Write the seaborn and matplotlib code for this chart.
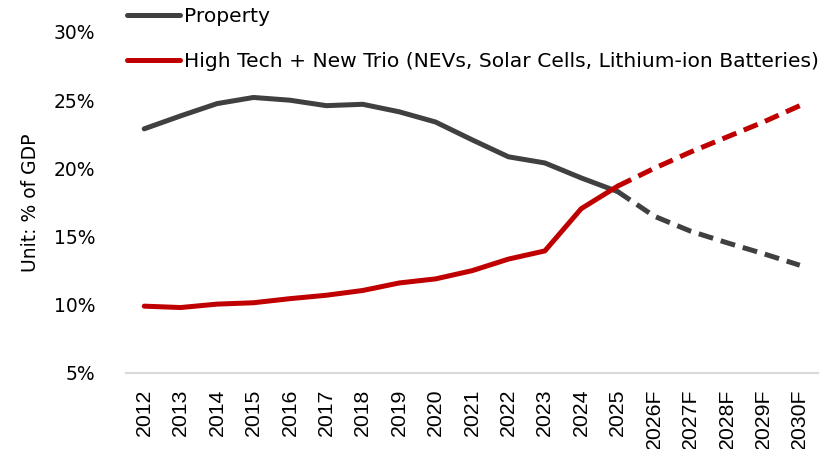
import matplotlib
matplotlib.use("Agg")
import matplotlib.pyplot as plt
import seaborn as sns
import pandas as pd
from matplotlib.lines import Line2D
from matplotlib.ticker import FuncFormatter, MultipleLocator

years = ["2012", "2013", "2014", "2015", "2016", "2017", "2018", "2019", "2020",
         "2021", "2022", "2023", "2024", "2025", "2026F", "2027F", "2028F", "2029F", "2030F"]
property_share = [22.9, 23.85, 24.75, 25.2, 25.0, 24.6, 24.7, 24.15, 23.4,
                  22.1, 20.85, 20.4, 19.3, 18.3, 16.5, 15.4, 14.55, 13.75, 12.9]
hightech_share = [9.9, 9.8, 10.05, 10.15, 10.45, 10.7, 11.05, 11.6, 11.9,
                  12.5, 13.35, 13.95, 17.05, 18.7, 20.0, 21.2, 22.3, 23.4, 24.6]
series_names = ["Property", "High Tech + New Trio (NEVs, Solar Cells, Lithium-ion Batteries)"]
last_actual = "2025"

rows = []
cut = years.index(last_actual)
for name, vals in zip(series_names, [property_share, hightech_share]):
    for i, (y, v) in enumerate(zip(years, vals)):
        if i <= cut:
            rows.append({"year": y, "value": v, "series": name, "segment": "actual"})
        if i >= cut:
            rows.append({"year": y, "value": v, "series": name, "segment": "forecast"})
df = pd.DataFrame(rows)

sns.set_theme(style="white")
plt.rcParams["font.family"] = ["DejaVu Sans"]
plt.rcParams["text.color"] = "#000000"

colors = {series_names[0]: "#404040", series_names[1]: "#C00000"}

fig = plt.figure(figsize=(8.38, 4.49), dpi=100)
ax = fig.add_axes([126 / 838, 1 - 373 / 449, (818 - 126) / 838, (373 - 32) / 449])

sns.lineplot(data=df, x="year", y="value", hue="series", style="segment",
             palette=colors, dashes={"actual": "", "forecast": (3, 1.6)},
             linewidth=3.6, sort=False, legend=False, ax=ax,
             estimator=None, units=None)
for ln in ax.get_lines():
    ln.set_solid_capstyle("round")
    ln.set_dash_capstyle("butt")

ax.set_ylim(5, 30)
ax.set_xlim(-0.5, len(years) - 0.5)
ax.yaxis.set_major_locator(MultipleLocator(5))
ax.yaxis.set_major_formatter(FuncFormatter(lambda v, p: f"{v:.0f}%"))
ax.set_xlabel("")
ax.set_ylabel("Unit: % of GDP", fontsize=13.5, color="#000000", labelpad=10)

for s in ["top", "right", "left"]:
    ax.spines[s].set_visible(False)
ax.spines["bottom"].set_color("#D9D9D9")
ax.spines["bottom"].set_linewidth(1.5)
ax.tick_params(axis="both", length=0)
ax.tick_params(axis="y", labelsize=13.5, labelcolor="#000000", pad=22)
ax.tick_params(axis="x", labelsize=15.3, labelcolor="#000000", pad=11)
for lbl in ax.get_xticklabels():
    lbl.set_rotation(90)
    lbl.set_fontfamily("Liberation Sans")

handles = [Line2D([0], [0], color=colors[n], lw=3.6, solid_capstyle="round") for n in series_names]
leg = fig.legend(handles, series_names, loc="upper left", bbox_to_anchor=(127 / 838, 1 - 7 / 449),
                 frameon=False, fontsize=14.6, handlelength=2.6, handletextpad=0.2,
                 labelspacing=1.3, borderpad=0, borderaxespad=0)
for t in leg.get_texts():
    t.set_color("#000000")

fig.savefig("out.png", dpi=100)
